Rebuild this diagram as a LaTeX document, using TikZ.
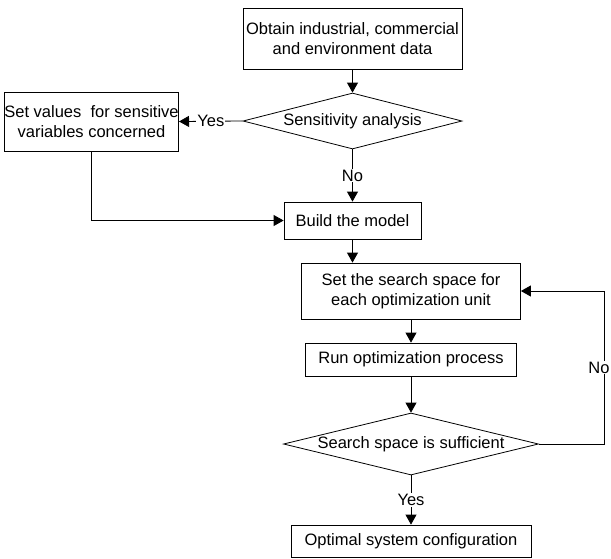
\documentclass[tikz,border=0pt]{standalone}
\usepackage{fontspec}
\setmainfont{Liberation Sans}
\usetikzlibrary{shapes.geometric,arrows.meta}
\begin{document}
\begin{tikzpicture}[
    x=1pt, y=-1pt,
    font=\fontsize{16.5}{20}\selectfont,
    line width=0.8pt,
    stepbox/.style={draw=ink, rectangle, align=center, inner sep=0pt},
    decision/.style={draw=ink, diamond, aspect=4, inner sep=0pt},
    flow/.style={draw=ink, -{Triangle[length=10pt,width=11pt]}},
    answer/.style={fill=white, text=ink, inner sep=1pt}
]
\definecolor{ink}{HTML}{000000}

\def\top{352.5}
\def\low{411}

\useasboundingbox (0,0) rectangle (611,558);

% upper part: data and sensitivity check
\node[stepbox, minimum width=219pt, minimum height=61pt] (obtain) at (\top,38.5)
  {Obtain industrial, commercial\\and environment data};
\node[decision, minimum width=219pt, minimum height=56pt] (sens) at (\top,121)
  {\makebox[0pt]{Sensitivity analysis}};
\node[stepbox, minimum width=169pt, minimum height=59pt] (setval) at (91.5,121.5)
  {Set values\ \ for sensitive\\variables concerned};
\node[stepbox, minimum width=137pt, minimum height=37pt] (build) at (\top,220.5)
  {Build the model};

% lower part: optimization loop
\node[stepbox, minimum width=219pt, minimum height=56pt] (space) at (\low,291)
  {Set the search space for\\each optimization unit};
\node[stepbox, minimum width=211pt, minimum height=33pt] (run) at (\low,359.5)
  {Run optimization process};
\node[decision, minimum width=255pt, minimum height=62pt] (suff) at (\low,444)
  {\makebox[0pt]{Search space is sufficient}};
\node[stepbox, minimum width=240pt, minimum height=32pt] (optimal) at (\low,541)
  {Optimal system configuration};

\draw[flow] (obtain.south) -- (sens.north);
\draw[flow] (sens.west) -- node[answer] (sensyes) {Yes} (setval.east);
\draw[flow] (sens.south) -- node[answer] (sensno) {No} (build.north);
\draw[flow] (setval.south) |- (build.west);
\draw[flow] (build.south) -- (build.south |- space.north);
\draw[flow] (space.south) -- (run.north);
\draw[flow] (run.south) -- (suff.north);
\draw[flow] (suff.south) -- node[answer] (suffyes) {Yes} (optimal.north);
\draw[flow] (suff.east) -- ++(65,0)
  |- node[answer, pos=0.25, xshift=-5pt] (suffno) {No} (space.east);
\end{tikzpicture}
\end{document}
